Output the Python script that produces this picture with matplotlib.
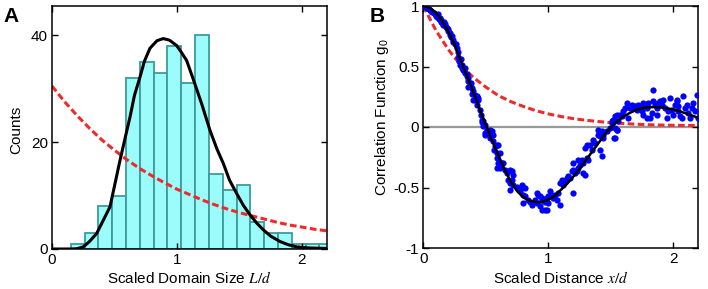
import numpy as np
import matplotlib
matplotlib.use('Agg')
import matplotlib.pyplot as plt

plt.rcParams['font.family'] = ['Liberation Sans', 'DejaVu Sans']
plt.rcParams['mathtext.fontset'] = 'stix'
plt.rcParams['font.size'] = 11

# ---- Panel A: histograma de tamanos de dominio ----
bin_left  = [0.15 + 0.1105*k for k in range(19)]                               # borde izquierdo de cada barra
bin_width = 0.1105
counts    = [1, 3, 8, 10, 32, 35, 33, 38, 31, 40, 14, 11, 12, 5, 3, 3, 1, 1, 1]

fitA_x = [0.0, 0.15, 0.2, 0.25, 0.3, 0.357, 0.4, 0.464, 0.5, 0.544, 0.6, 0.624, 0.66, 0.704,
          0.74, 0.784, 0.84, 0.89, 0.94, 0.997, 1.03, 1.077, 1.13, 1.2, 1.264, 1.32, 1.371,
          1.42, 1.477, 1.53, 1.584, 1.64, 1.69, 1.75, 1.824, 1.89, 1.957, 2.05, 2.2]
fitA_y = [0.0, 0.0, 0.05, 0.4, 1.4, 2.9, 4.9, 7.9, 11.8, 16.6, 22.3, 24.7, 28.8, 32.2,
          35.2, 37.6, 39.0, 39.4, 39.1, 38.1, 37.0, 35.3, 31.8, 27.0, 22.2, 18.7, 16.0,
          12.9, 10.4, 8.2, 6.4, 4.8, 3.6, 2.4, 1.4, 0.8, 0.4, 0.2, 0.1]

expA_x = [0.0, 0.1, 0.2, 0.3, 0.4, 0.5, 0.6, 0.7, 0.8, 0.9, 1.0, 1.1, 1.2, 1.3, 1.4, 1.5,
          1.6, 1.7, 1.8, 1.9, 2.0, 2.1, 2.2]
expA_y = [30.5, 27.6, 25.0, 22.6, 20.4, 18.5, 16.7, 15.1, 13.7, 12.4, 11.2, 10.2, 9.2,
          8.3, 7.5, 6.8, 6.2, 5.6, 5.0, 4.5, 4.1, 3.7, 3.4]

# ---- Panel B: funcion de correlacion ----
fitB_x = [0.0, 0.05, 0.1, 0.15, 0.2, 0.25, 0.3, 0.35, 0.4, 0.45, 0.5, 0.55, 0.6, 0.65, 0.7,
          0.75, 0.8, 0.85, 0.9, 0.95, 1.0, 1.05, 1.1, 1.15, 1.2, 1.25, 1.3, 1.35, 1.4, 1.45,
          1.5, 1.55, 1.6, 1.65, 1.7, 1.75, 1.8, 1.85, 1.9, 1.95, 2.0, 2.05, 2.1, 2.15, 2.2]
fitB_y = [1.0, 0.985, 0.945, 0.88, 0.79, 0.68, 0.55, 0.42, 0.29, 0.15, 0.02, -0.11, -0.23,
          -0.35, -0.45, -0.53, -0.58, -0.61, -0.62, -0.62, -0.60, -0.57, -0.52, -0.47,
          -0.41, -0.345, -0.275, -0.205, -0.135, -0.065, -0.005, 0.045, 0.085, 0.115, 0.14,
          0.155, 0.163, 0.165, 0.162, 0.155, 0.145, 0.13, 0.113, 0.095, 0.075]

expB_x = [0.0, 0.1, 0.2, 0.3, 0.4, 0.5, 0.6, 0.7, 0.8, 0.9, 1.0, 1.1, 1.2, 1.3, 1.4, 1.5,
          1.6, 1.7, 1.8, 1.9, 2.0, 2.1, 2.2]
expB_y = [1.0, 0.80, 0.64, 0.51, 0.41, 0.33, 0.26, 0.21, 0.17, 0.135, 0.108, 0.087, 0.069,
          0.056, 0.045, 0.036, 0.029, 0.023, 0.019, 0.016, 0.014, 0.013, 0.012]

datos_x = [0.0, 0.01, 0.02, 0.032, 0.045, 0.053, 0.06, 0.07, 0.082, 0.09, 0.10, 0.11, 0.115,
           0.123, 0.13, 0.139, 0.145, 0.155, 0.16, 0.165, 0.174, 0.18, 0.187, 0.195, 0.20,
           0.21, 0.214, 0.22, 0.227, 0.235, 0.24, 0.25, 0.262, 0.272, 0.28, 0.28, 0.288,
           0.294, 0.30, 0.307, 0.31, 0.32, 0.33, 0.334, 0.347, 0.35, 0.355, 0.36, 0.36,
           0.374, 0.38, 0.387, 0.39, 0.40, 0.40, 0.414, 0.414, 0.42, 0.427, 0.43, 0.44,
           0.44, 0.45, 0.46, 0.467, 0.467, 0.48, 0.48, 0.494, 0.494, 0.494, 0.507, 0.52,
           0.52, 0.534, 0.534, 0.534, 0.547, 0.56, 0.56, 0.566, 0.574, 0.587, 0.587, 0.587,
           0.587, 0.6, 0.6, 0.614, 0.614, 0.627, 0.64, 0.654, 0.667, 0.68, 0.694, 0.694,
           0.694, 0.707, 0.707, 0.72, 0.72, 0.747, 0.76, 0.774, 0.787, 0.80, 0.80, 0.80,
           0.814, 0.814, 0.84, 0.854, 0.867, 0.894, 0.907, 0.907, 0.92, 0.934, 0.934, 0.947,
           0.947, 0.947, 0.96, 0.974, 0.974, 0.974, 0.987, 0.987, 1.0, 1.0, 1.014, 1.027,
           1.04, 1.054, 1.067, 1.08, 1.094, 1.094, 1.107, 1.12, 1.134, 1.147, 1.16, 1.174,
           1.187, 1.2, 1.2, 1.2, 1.214, 1.227, 1.24, 1.24, 1.254, 1.267, 1.28, 1.28, 1.294,
           1.294, 1.307, 1.307, 1.32, 1.334, 1.347, 1.36, 1.374, 1.40, 1.40, 1.414, 1.414,
           1.427, 1.427, 1.44, 1.44, 1.467, 1.494, 1.507, 1.507, 1.52, 1.526, 1.534, 1.534,
           1.534, 1.547, 1.547, 1.547, 1.56, 1.574, 1.587, 1.60, 1.614, 1.627, 1.64, 1.654,
           1.667, 1.68, 1.694, 1.707, 1.72, 1.734, 1.747, 1.76, 1.76, 1.774, 1.787, 1.787,
           1.80, 1.814, 1.827, 1.835, 1.84, 1.854, 1.867, 1.867, 1.88, 1.894, 1.907, 1.92,
           1.934, 1.947, 1.96, 1.974, 1.987, 2.0, 2.014, 2.027, 2.027, 2.04, 2.04, 2.054,
           2.067, 2.08, 2.094, 2.107, 2.12, 2.134, 2.147, 2.16, 2.174, 2.187, 2.197]
datos_y = [1.0, 0.99, 0.995, 0.986, 0.975, 0.964, 0.96, 0.95, 0.944, 0.93, 0.917, 0.91, 0.93,
           0.889, 0.90, 0.87, 0.885, 0.853, 0.84, 0.87, 0.848, 0.83, 0.82, 0.81, 0.793,
           0.76, 0.779, 0.74, 0.751, 0.70, 0.723, 0.69, 0.682, 0.655, 0.62, 0.58, 0.544,
           0.516, 0.56, 0.489, 0.51, 0.475, 0.49, 0.447, 0.42, 0.44, 0.38, 0.406, 0.33,
           0.35, 0.36, 0.323, 0.27, 0.296, 0.226, 0.268, 0.226, 0.25, 0.254, 0.18, 0.24,
           0.226, 0.14, 0.10, 0.061, 0.04, 0.047, 0.01, 0.019, -0.05, -0.07, -0.022, -0.036,
           -0.05, -0.022, -0.091, -0.06, -0.036, -0.064, -0.119, -0.188, -0.16, -0.146,
           -0.215, -0.257, -0.34, -0.146, -0.298, -0.215, -0.34, -0.298, -0.298, -0.354,
           -0.381, -0.436, -0.354, -0.464, -0.519, -0.367, -0.436, -0.395, -0.478, -0.492,
           -0.505, -0.533, -0.478, -0.492, -0.561, -0.63, -0.505, -0.574, -0.602, -0.616,
           -0.643, -0.602, -0.547, -0.63, -0.561, -0.574, -0.657, -0.588, -0.685, -0.602,
           -0.602, -0.616, -0.685, -0.602, -0.588, -0.685, -0.574, -0.63, -0.533, -0.561,
           -0.588, -0.561, -0.602, -0.547, -0.464, -0.644, -0.436, -0.478, -0.45, -0.423,
           -0.409, -0.423, -0.367, -0.354, -0.547, -0.298, -0.381, -0.367, -0.34, -0.271,
           -0.312, -0.271, -0.381, -0.298, -0.395, -0.174, -0.257, -0.146, -0.271, -0.146,
           -0.188, -0.105, -0.133, -0.064, -0.022, -0.077, -0.188, -0.036, -0.243, -0.064,
           -0.091, -0.036, -0.008, 0.033, 0.047, 0.061, -0.091, 0.088, -0.091, -0.008, 0.102,
           -0.022, -0.022, 0.047, 0.102, 0.088, 0.13, 0.157, 0.199, 0.075, 0.157, 0.185,
           0.157, 0.171, 0.144, 0.185, 0.157, 0.13, 0.199, 0.102, 0.185, 0.157, 0.075, 0.199,
           0.075, 0.116, 0.309, 0.213, 0.185, 0.157, 0.102, 0.199, 0.213, 0.185, 0.226, 0.157,
           0.075, 0.13, 0.24, 0.144, 0.102, 0.185, 0.213, 0.226, 0.13, 0.171, 0.088, 0.075,
           0.254, 0.157, 0.185, 0.116, 0.075, 0.157, 0.199, 0.13, 0.268, 0.075]

n = min(len(datos_x), len(datos_y))
datos_x, datos_y = datos_x[:n], datos_y[:n]

rojo = '#ee2a2a'
guiones = (0, (2.2, 1.1))

fig = plt.figure(figsize=(7.08, 2.89), dpi=100)
axA = fig.add_axes([52/708, 40/289, 275/708, 243/289])
axB = fig.add_axes([423.3/708, 41/289, 275/708, 242/289])

# Panel A
axA.bar(bin_left, counts, width=bin_width, align='edge', color='#9cfcfc',
        edgecolor='#3c9c9c', linewidth=1.3, zorder=1)
axA.plot(expA_x, expA_y, color=rojo, lw=2.2, linestyle=guiones, zorder=2)
axA.plot(fitA_x, fitA_y, color='black', lw=2.2, zorder=3)
axA.set_xlim(0, 2.2)
axA.set_ylim(0, 45.5)
axA.set_xticks([0, 1, 2])
axA.set_yticks([0, 20, 40])
axA.set_xlabel('Scaled Domain Size $L/d$', fontsize=11)
axA.set_ylabel('Counts', fontsize=11)

# Panel B
axB.axhline(0, color='#999999', lw=1.6, zorder=1)
axB.plot(expB_x, expB_y, color=rojo, lw=2.2, linestyle=guiones, zorder=2)
axB.plot(datos_x, datos_y, 'o', color='#0000ff', markersize=4.5, markeredgewidth=0, zorder=3)
axB.plot(fitB_x, fitB_y, color='black', lw=1.8, zorder=4)
axB.set_xlim(0, 2.2)
axB.set_ylim(-1, 1)
axB.set_xticks([0, 1, 2])
axB.set_yticks([-1, -0.5, 0, 0.5, 1])
axB.set_yticklabels(['-1', '-0.5', '0', '0.5', '1'])
axB.set_xlabel('Scaled Distance $x/d$', fontsize=11)
axB.set_ylabel(r'Correlation Function $\mathregular{g_0}$', fontsize=11)

for ax in (axA, axB):
    ax.tick_params(direction='in', top=True, right=True, length=4, width=1, labelsize=11, pad=3)
    for s in ax.spines.values():
        s.set_linewidth(1.1)

# posiciones de las etiquetas en pixeles de la figura
axA.xaxis.set_label_coords(189.5 / 708, 3 / 289, transform=fig.transFigure)
axB.xaxis.set_label_coords(560.8 / 708, 3 / 289, transform=fig.transFigure)
axA.yaxis.set_label_coords(23 / 708, (289 - 130) / 289, transform=fig.transFigure)
axB.yaxis.set_label_coords(391 / 708, (289 - 117.5) / 289, transform=fig.transFigure)
axA.xaxis.label.set_va('bottom')
axB.xaxis.label.set_va('bottom')

fig.text(3/708, 1 - 22/289, 'A', fontsize=15, fontweight='bold')
fig.text(370/708, 1 - 22/289, 'B', fontsize=15, fontweight='bold')

fig.savefig('out.png', dpi=100)
